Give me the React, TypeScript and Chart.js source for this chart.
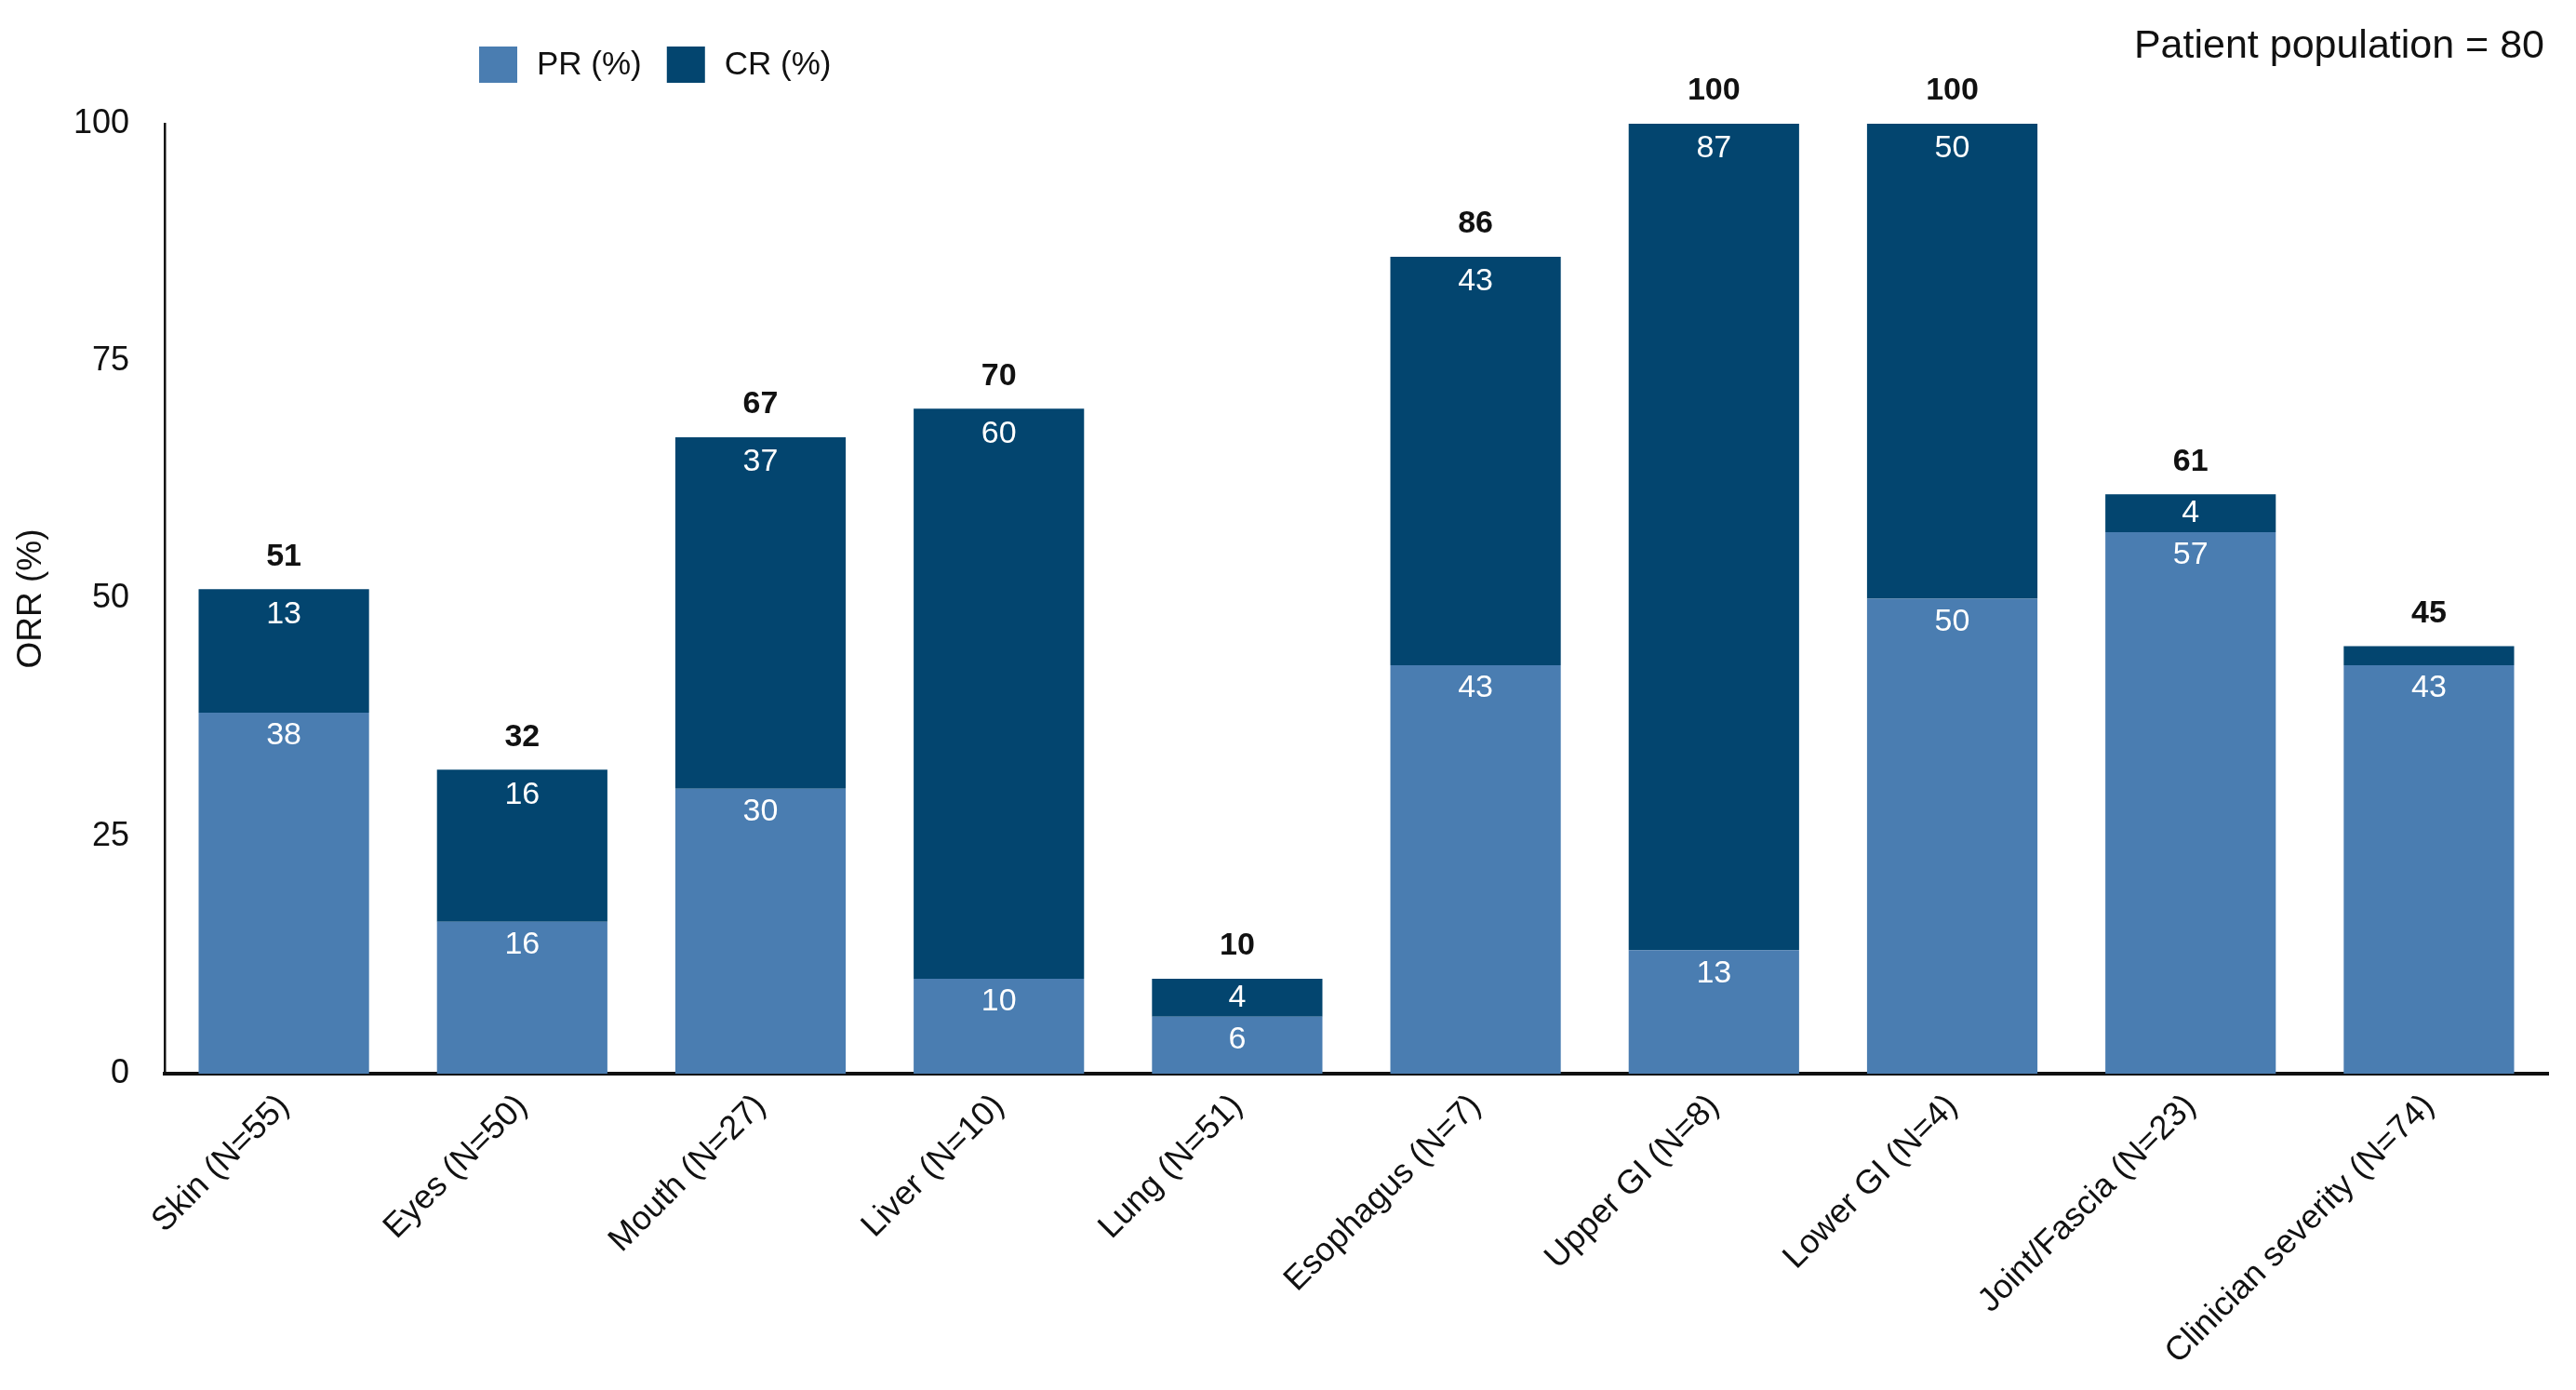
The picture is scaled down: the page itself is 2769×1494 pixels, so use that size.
import { useEffect, useRef } from "react";
import { Chart, registerables } from "chart.js";

Chart.register(...registerables);

const categories = [
  "Skin (N=55)",
  "Eyes (N=50)",
  "Mouth (N=27)",
  "Liver (N=10)",
  "Lung (N=51)",
  "Esophagus (N=7)",
  "Upper GI (N=8)",
  "Lower GI (N=4)",
  "Joint/Fascia (N=23)",
  "Clinician severity (N=74)",
];
const prValues = [38, 16, 30, 10, 6, 43, 13, 50, 57, 43];
const crValues = [13, 16, 37, 60, 4, 43, 87, 50, 4, 2];
const yTicks = [0, 25, 50, 75, 100];
const seriesNames = ["PR (%)", "CR (%)"];
const populationNote = "Patient population = 80";

const PR_COLOR = "#4a7db1";
const CR_COLOR = "#03456f";
const INK = "#111111";
const FONT = "'Liberation Sans', Arial, Helvetica, sans-serif";

const labelPlugin = {
  id: "barLabels",
  afterDatasetsDraw(chart: any) {
    const { ctx } = chart;
    const prBars = chart.getDatasetMeta(0).data;
    const crBars = chart.getDatasetMeta(1).data;
    ctx.save();
    ctx.textAlign = "center";
    ctx.textBaseline = "middle";

    // values inside the segments
    ctx.font = `34px ${FONT}`;
    ctx.fillStyle = "#ffffff";
    prBars.forEach((el: any, i: number) => {
      const { x, y, base } = el.getProps(["x", "y", "base"], true);
      ctx.fillText(String(prValues[i]), x, y + Math.min(25, (base - y) / 2));
    });
    crBars.forEach((el: any, i: number) => {
      if (crValues[i] < 3) return;
      const { x, y, base } = el.getProps(["x", "y", "base"], true);
      ctx.fillText(String(crValues[i]), x, y + Math.min(27, (base - y) / 2));
    });

    // totals above the bars
    ctx.font = `bold 34px ${FONT}`;
    ctx.fillStyle = INK;
    crBars.forEach((el: any, i: number) => {
      const { x, y } = el.getProps(["x", "y"], true);
      ctx.fillText(String(prValues[i] + crValues[i]), x, y - 35);
    });
    ctx.restore();
  },
  afterDraw(chart: any) {
    const { ctx } = chart;
    ctx.save();
    ctx.textBaseline = "middle";

    // legend
    const colors = [PR_COLOR, CR_COLOR];
    let lx = 515;
    ctx.font = `35px ${FONT}`;
    seriesNames.forEach((name, i) => {
      ctx.fillStyle = colors[i];
      ctx.fillRect(lx, 50, 41, 39);
      ctx.fillStyle = INK;
      ctx.textAlign = "left";
      ctx.fillText(name, lx + 62, 70);
      lx += 62 + ctx.measureText(name).width + 27;
    });

    // note at the top right
    ctx.font = `43px ${FONT}`;
    ctx.textAlign = "right";
    ctx.fillText(populationNote, chart.width - 34, 50);
    ctx.restore();
  },
};

export default function App() {
  const canvasRef = useRef<HTMLCanvasElement | null>(null);
  const chartRef = useRef<Chart | null>(null);

  useEffect(() => {
    document.body.style.margin = "0";
    if (chartRef.current) chartRef.current.destroy();
    const ctx = canvasRef.current!.getContext("2d")!;

    chartRef.current = new Chart(ctx, {
      type: "bar",
      data: {
        labels: categories,
        datasets: [
          {
            label: seriesNames[0],
            data: prValues,
            backgroundColor: PR_COLOR,
            borderWidth: 0,
          },
          {
            label: seriesNames[1],
            data: crValues,
            backgroundColor: CR_COLOR,
            borderWidth: 0,
          },
        ],
      },
      options: {
        animation: false,
        responsive: true,
        maintainAspectRatio: false,
        categoryPercentage: 1,
        barPercentage: 0.715,
        layout: { padding: { top: 133, right: 30, left: 0, bottom: 0 } },
        plugins: {
          legend: { display: false },
          tooltip: { enabled: false },
        },
        scales: {
          x: {
            stacked: true,
            grid: { display: false, drawTicks: false },
            border: { color: INK, width: 4 },
            ticks: {
              color: INK,
              font: { family: FONT, size: 36 },
              maxRotation: 45,
              minRotation: 45,
              padding: 14,
              autoSkip: false,
            },
            afterFit: (scale: any) => {
              scale.height = 340;
            },
          },
          y: {
            stacked: true,
            min: 0,
            max: 100,
            grid: { display: false, drawTicks: false },
            border: { color: INK, width: 2.5 },
            ticks: {
              color: INK,
              font: { family: FONT, size: 36 },
              padding: 38,
            },
            afterBuildTicks: (scale: any) => {
              scale.ticks = yTicks.map((v) => ({ value: v }));
            },
            title: {
              display: true,
              text: "ORR (%)",
              color: INK,
              font: { family: FONT, size: 37 },
              padding: { top: 12, bottom: 0 },
            },
            afterFit: (scale: any) => {
              scale.width = 177;
            },
          },
        },
      },
      plugins: [labelPlugin],
    });

    return () => {
      if (chartRef.current) {
        chartRef.current.destroy();
        chartRef.current = null;
      }
    };
  }, []);

  return (
    <div style={{ width: 2769, height: 1494, position: "relative", background: "#fff" }}>
      <canvas ref={canvasRef} />
    </div>
  );
}
